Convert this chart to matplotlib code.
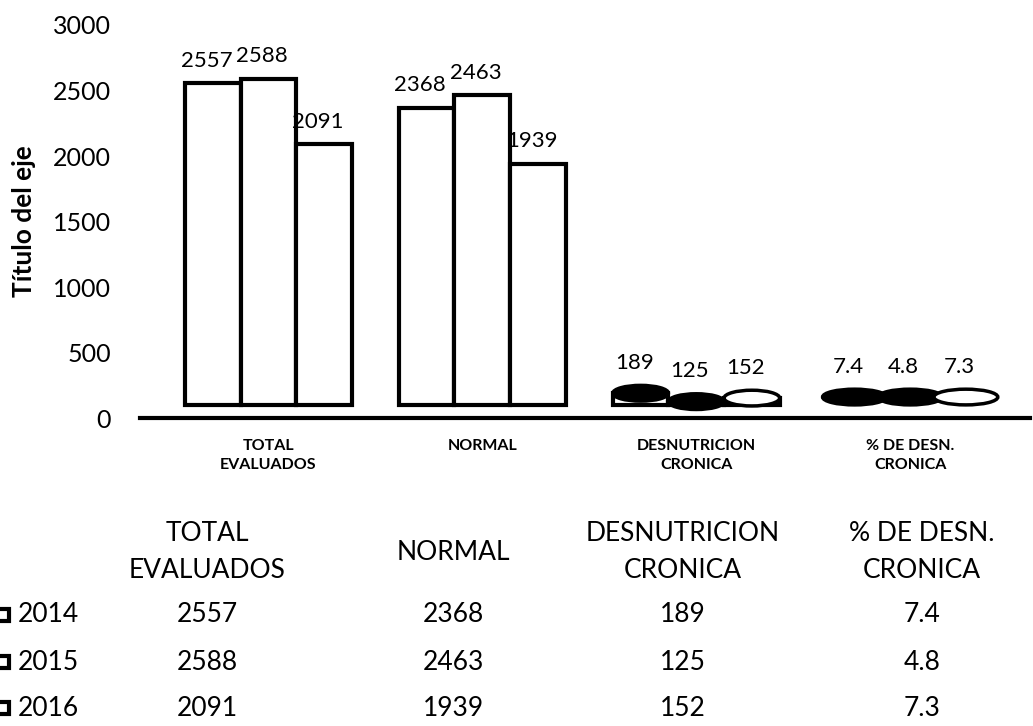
import numpy as np
import matplotlib.pyplot as plt
from matplotlib.patches import Ellipse, Rectangle

plt.rcParams['font.family'] = ['Lato', 'DejaVu Sans']

# datos
categorias = ['TOTAL\nEVALUADOS', 'NORMAL', 'DESNUTRICION\nCRONICA', '% DE DESN.\nCRONICA']
anios = ['2014', '2015', '2016']
v2014 = [2557, 2368, 189, 7.4]
v2015 = [2588, 2463, 125, 4.8]
v2016 = [2091, 1939, 152, 7.3]
valores = [v2014, v2015, v2016]

W, H = 1033, 726
fig = plt.figure(figsize=(W / 100, H / 100), dpi=100)
ax = fig.add_axes([140 / W, 1 - 418 / H, 890 / W, 393 / H])

piso = 100      # suelo del grafico 3D
ancho = 0.26
desp = [-0.26, 0, 0.26]
tapa = 120      # alto de la tapa eliptica
relleno_tapa = ['black', 'black', 'white']
con_tapa = [False, False, True, True]

x = np.arange(len(categorias))
for j in range(len(anios)):
    vals = np.array(valores[j], dtype=float)
    xs = x + desp[j]
    alto = np.maximum(vals - piso, 0)
    for i in range(len(categorias)):
        cima = piso + alto[i]
        if alto[i] > 0:
            ax.bar(xs[i], alto[i], bottom=piso, width=ancho, color='white',
                   edgecolor='black', linewidth=3, zorder=2 + j)
        if con_tapa[i]:
            w = ancho if alto[i] > 0 else ancho * 1.15
            yc = cima if alto[i] > 0 else cima + tapa / 2
            ax.add_patch(Ellipse((xs[i], yc), w, tapa, facecolor=relleno_tapa[j],
                                 edgecolor='black', linewidth=2.5, zorder=3 + j))
            cima = yc + tapa / 2
        ax.annotate(f'{vals[i]:g}', (xs[i] - 0.03, cima), xytext=(0, 9),
                    textcoords='offset points', ha='center', va='bottom',
                    fontsize=16, zorder=10)

ax.set_xlim(-0.6, 3.56)
ax.set_ylim(0, 3000)
ax.set_yticks(np.arange(0, 3001, 500))
ax.set_xticks(x)
ax.set_xticklabels(categorias, fontsize=11.5, fontweight='bold', linespacing=1.5)
ax.tick_params(axis='y', length=0, pad=21, labelsize=18)
ax.tick_params(axis='x', length=0, pad=15)
for s in ['top', 'right', 'left']:
    ax.spines[s].set_visible(False)
ax.spines['bottom'].set_linewidth(3)
ax.set_ylabel('Título del eje', fontsize=19, fontweight='bold', labelpad=12)

# tabla de datos
col_x = [207, 453, 683, 922]
fila_y = [615, 662, 708]
for c, cat in enumerate(categorias):
    fig.text(col_x[c] / W, 1 - 552 / H, cat, ha='center', va='center',
             fontsize=19, linespacing=1.6)
    for r in range(len(anios)):
        fig.text(col_x[c] / W, 1 - fila_y[r] / H, f'{valores[r][c]:g}',
                 ha='center', va='center', fontsize=19)
for r, a in enumerate(anios):
    fig.text(18 / W, 1 - fila_y[r] / H, a, ha='left', va='center', fontsize=19)
    fig.patches.append(Rectangle((-3 / W, 1 - (fila_y[r] + 6) / H), 12 / W, 12 / H,
                                 transform=fig.transFigure, facecolor='white',
                                 edgecolor='black', linewidth=3))

fig.savefig('out.png', dpi=100)
